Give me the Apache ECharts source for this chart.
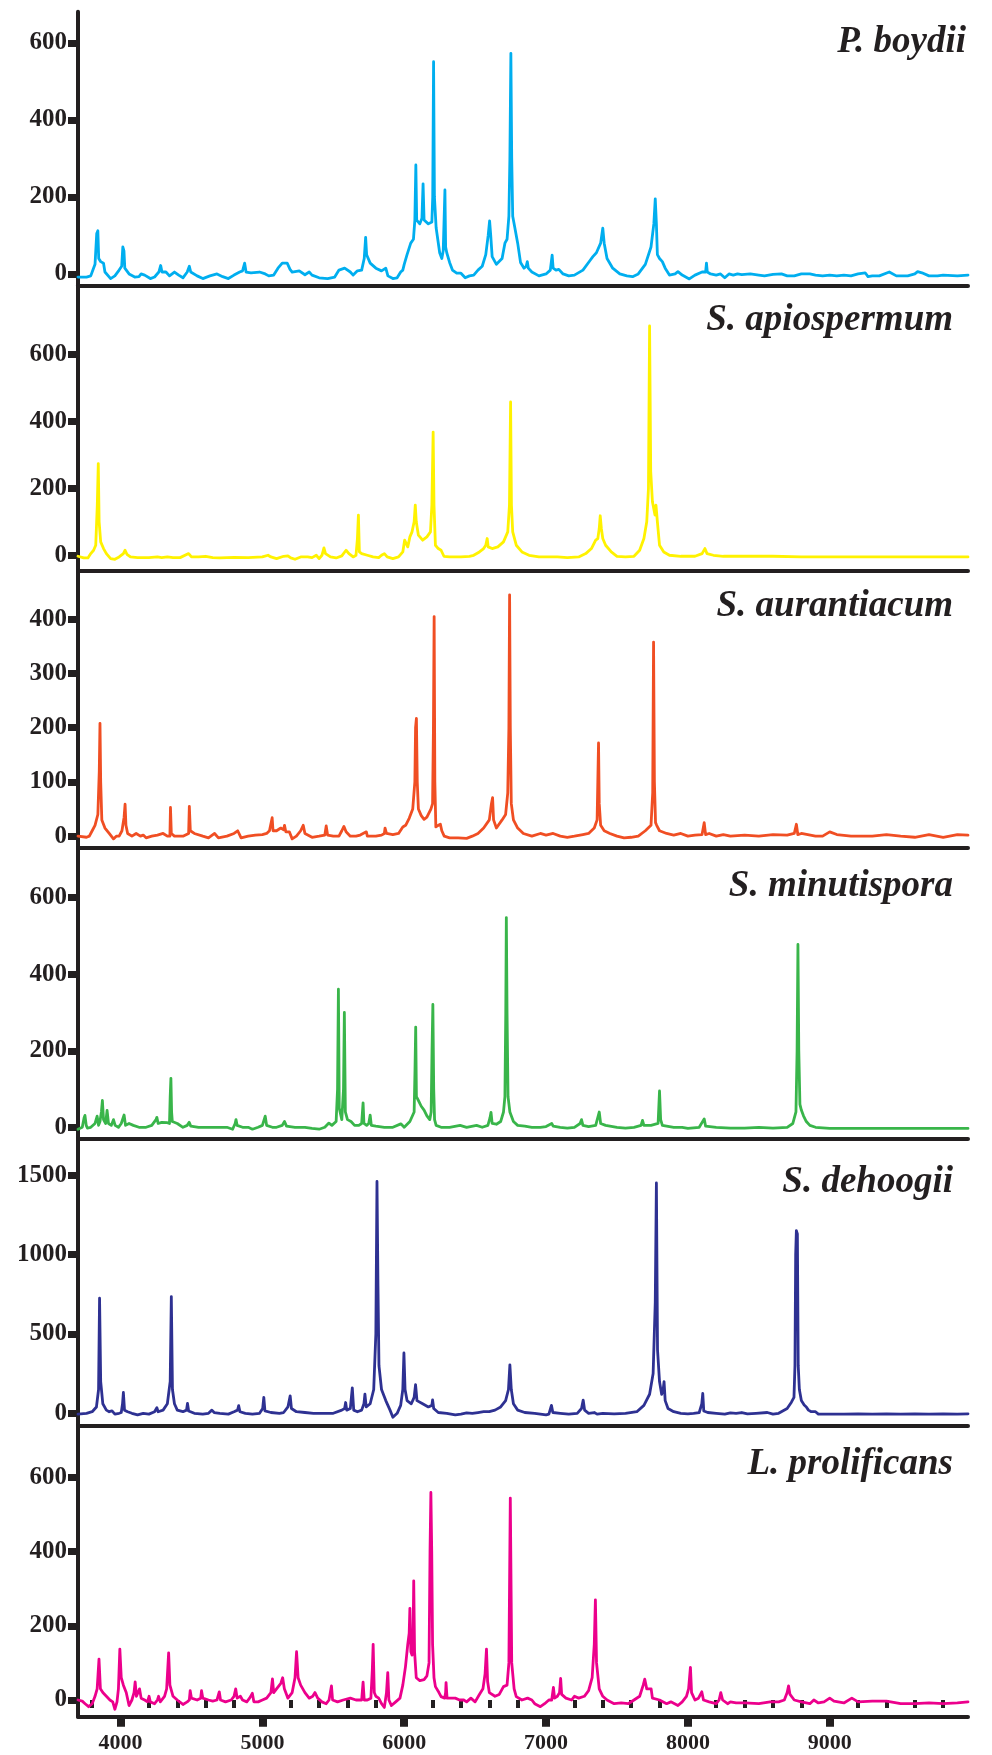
<!DOCTYPE html>
<html>
<head>
<meta charset="utf-8">
<script src="https://cdn.jsdelivr.net/npm/echarts@6/dist/echarts.min.js"></script>
<style>
html,body{margin:0;padding:0;background:#fff;}
#chart{width:992px;height:1755px;}
</style>
</head>
<body>
<div id="chart"></div>
<script>
// ---------- DATA ----------
const speciesNames = ['P. boydii', 'S. apiospermum', 'S. aurantiacum', 'S. minutispora', 'S. dehoogii', 'L. prolificans'];
const xMajorTicks = [4000, 5000, 6000, 7000, 8000, 9000];
const xMinorTicks = [3800, 4200, 4400, 4600, 4800, 5200, 5400, 5600, 5800, 6200, 6400, 6600, 6800, 7200, 7400, 7600, 7800, 8200, 8400, 8600, 8800, 9200, 9400, 9600, 9800];
const yTicks1 = [0, 200, 400, 600];
const yTicks2 = [0, 200, 400, 600];
const yTicks3 = [0, 100, 200, 300, 400];
const yTicks4 = [0, 200, 400, 600];
const yTicks5 = [0, 500, 1000, 1500];
const yTicks6 = [0, 200, 400, 600];

// [m/z, intensity]
const boydii = [[3700,-8],[3760,-8],[3790,-5],[3805,10],[3820,25],[3832,105],[3840,112],[3846,40],[3860,32],[3880,28],[3890,5],[3930,-12],[3960,-5],[3990,10],[4008,20],[4016,70],[4024,60],[4030,15],[4060,0],[4100,-8],[4130,-7],[4145,0],[4170,-3],[4210,-12],[4240,-8],[4270,5],[4283,22],[4292,5],[4320,5],[4345,-5],[4380,5],[4410,-3],[4440,-10],[4470,5],[4485,20],[4495,5],[4540,-5],[4580,-12],[4630,-5],[4680,0],[4720,-7],[4760,-12],[4800,-3],[4840,5],[4860,8],[4875,28],[4885,5],[4920,3],[4980,5],[5020,0],[5045,-5],[5080,-3],[5110,15],[5140,28],[5175,28],[5195,12],[5210,5],[5260,8],[5300,-2],[5330,5],[5350,-3],[5400,-10],[5460,-12],[5510,-8],[5540,10],[5580,15],[5620,5],[5640,-3],[5670,8],[5700,10],[5718,40],[5728,95],[5735,50],[5760,28],[5800,15],[5840,8],[5870,15],[5885,-5],[5920,-12],[5950,-10],[5975,5],[5990,10],[6000,25],[6020,50],[6046,80],[6065,90],[6075,140],[6082,283],[6088,140],[6110,130],[6125,145],[6133,234],[6140,140],[6170,130],[6195,135],[6201,200],[6207,551],[6213,200],[6225,120],[6250,55],[6265,40],[6275,60],[6287,218],[6292,70],[6300,55],[6320,30],[6340,10],[6370,2],[6400,2],[6430,-10],[6460,-5],[6490,-3],[6520,10],[6550,20],[6575,50],[6592,100],[6602,138],[6610,100],[6620,45],[6650,25],[6690,40],[6710,80],[6725,90],[6738,150],[6745,300],[6752,573],[6758,300],[6765,150],[6780,120],[6800,80],[6820,30],[6845,15],[6860,20],[6868,32],[6875,15],[6900,5],[6950,-5],[7000,0],[7030,10],[7043,49],[7050,15],[7070,10],[7090,12],[7120,0],[7160,-5],[7200,-3],[7260,10],[7310,35],[7330,45],[7340,49],[7355,55],[7385,80],[7400,119],[7410,80],[7430,40],[7470,15],[7520,0],[7570,-5],[7610,-7],[7650,0],[7700,25],[7740,70],[7760,130],[7770,195],[7778,130],[7785,50],[7800,40],[7820,32],[7840,15],[7870,-3],[7910,0],[7930,6],[7960,-3],[8010,-13],[8050,-3],[8100,5],[8125,5],[8131,28],[8137,5],[8160,0],[8200,-3],[8230,0],[8260,-10],[8290,0],[8320,-3],[8350,0],[8380,-2],[8440,0],[8500,-3],[8540,-5],[8600,-1],[8660,0],[8700,-5],[8750,-5],[8800,0],[8860,0],[8900,-3],[8950,-5],[9000,-3],[9050,-5],[9100,-3],[9150,-5],[9200,0],[9250,3],[9270,-7],[9300,-5],[9350,-5],[9420,5],[9470,-5],[9550,-5],[9600,0],[9620,6],[9650,3],[9700,-5],[9760,-5],[9800,-3],[9900,-5],[9975,-3]];

const apiospermum = [[3700,-3],[3740,-8],[3770,-8],[3790,5],[3810,15],[3825,30],[3836,150],[3843,274],[3849,100],[3860,40],[3880,20],[3900,5],[3930,-10],[3960,-12],[3990,-5],[4020,5],[4032,15],[4045,3],[4070,-5],[4120,-7],[4200,-7],[4260,-5],[4290,-7],[4330,-5],[4370,-7],[4420,-7],[4480,5],[4487,10],[4500,-5],[4550,-5],[4600,-3],[4650,-7],[4700,-8],[4800,-6],[4900,-7],[5000,-5],[5040,0],[5060,-5],[5100,-10],[5150,-3],[5180,-2],[5200,-8],[5230,-12],[5270,-5],[5320,-5],[5350,-7],[5380,0],[5400,-10],[5420,0],[5434,22],[5445,5],[5480,-5],[5520,-8],[5560,-2],[5590,15],[5600,20],[5610,5],[5640,-5],[5660,0],[5670,50],[5677,120],[5684,10],[5700,5],[5740,0],[5780,-5],[5820,-7],[5840,0],[5860,5],[5880,-5],[5920,-10],[5960,-5],[5990,10],[6003,45],[6012,40],[6025,25],[6040,55],[6055,70],[6070,100],[6078,150],[6085,100],[6100,60],[6130,45],[6160,55],[6185,70],[6195,150],[6204,368],[6210,150],[6220,30],[6240,20],[6260,15],[6280,-3],[6320,-5],[6400,-5],[6460,-3],[6490,0],[6530,10],[6560,20],[6575,30],[6585,50],[6592,25],[6620,20],[6660,25],[6700,40],[6730,70],[6742,150],[6750,458],[6756,150],[6765,70],[6790,30],[6830,10],[6880,0],[6950,-5],[7000,-5],[7080,-5],[7150,-7],[7230,-5],[7280,5],[7320,20],[7350,45],[7365,50],[7375,80],[7382,118],[7390,80],[7400,50],[7420,30],[7460,10],[7500,-3],[7560,-5],[7620,-3],[7660,15],[7690,50],[7710,100],[7722,200],[7730,685],[7738,250],[7750,160],[7760,155],[7768,120],[7775,150],[7785,100],[7800,30],[7830,10],[7870,0],[7950,-3],[8050,-3],[8100,5],[8120,20],[8135,5],[8180,0],[8250,-3],[8400,-3],[8600,-3],[8800,-5],[9000,-5],[9200,-5],[9400,-5],[9600,-5],[9800,-5],[9975,-5]];

const aurantiacum = [[3700,0],[3760,-2],[3780,0],[3800,10],[3820,20],[3840,40],[3850,120],[3855,208],[3860,100],[3868,30],[3890,15],[3920,5],[3950,-5],[3970,0],[3990,0],[4010,10],[4025,35],[4032,59],[4038,20],[4050,5],[4080,0],[4110,5],[4140,0],[4160,2],[4180,-3],[4220,0],[4260,2],[4300,5],[4330,0],[4348,0],[4352,53],[4358,5],[4380,0],[4440,0],[4480,5],[4485,55],[4492,10],[4520,5],[4580,0],[4620,-3],[4663,5],[4690,-3],[4750,0],[4800,5],[4826,10],[4850,-3],[4900,0],[4950,2],[5000,3],[5030,5],[5050,10],[5060,12],[5069,34],[5075,10],[5100,10],[5130,15],[5150,12],[5156,20],[5165,8],[5190,8],[5210,-5],[5240,0],[5270,10],[5288,20],[5300,5],[5350,-2],[5400,0],[5440,2],[5450,19],[5460,2],[5500,0],[5540,0],[5560,10],[5575,18],[5590,8],[5620,0],[5660,0],[5690,2],[5700,5],[5733,8],[5740,0],[5800,0],[5840,2],[5860,5],[5865,15],[5875,5],[5920,3],[5960,5],[5990,17],[6010,20],[6035,33],[6060,50],[6075,100],[6080,200],[6086,217],[6092,100],[6100,50],[6120,38],[6140,31],[6160,35],[6188,50],[6200,60],[6206,200],[6211,405],[6216,100],[6223,17],[6240,20],[6255,22],[6265,10],[6282,0],[6320,-3],[6380,-3],[6440,-4],[6480,0],[6520,5],[6560,15],[6600,30],[6615,60],[6623,71],[6630,30],[6650,15],[6690,30],[6715,40],[6730,80],[6738,200],[6743,445],[6748,200],[6755,60],[6770,30],[6800,15],[6840,5],[6900,0],[6960,5],[7000,2],[7050,5],[7100,0],[7150,-2],[7200,0],[7260,3],[7300,5],[7340,15],[7360,30],[7365,100],[7370,172],[7375,60],[7385,20],[7410,10],[7450,5],[7500,0],[7550,-3],[7600,-2],[7650,0],[7700,10],[7740,20],[7752,80],[7758,358],[7764,100],[7772,25],[7780,20],[7800,10],[7850,5],[7900,2],[7950,5],[8000,0],[8050,2],[8100,3],[8115,25],[8125,3],[8150,5],[8200,0],[8250,3],[8300,0],[8400,2],[8500,0],[8600,3],[8700,2],[8750,5],[8765,22],[8775,3],[8800,5],[8900,0],[8950,0],[9000,8],[9050,3],[9150,0],[9300,0],[9400,3],[9500,0],[9600,-2],[9700,3],[9800,-2],[9900,3],[9975,2]];

const minutispora = [[3700,-5],[3730,0],[3743,25],[3749,31],[3758,5],[3766,-2],[3790,0],[3820,10],[3835,29],[3845,5],[3855,15],[3865,40],[3872,70],[3880,20],[3895,10],[3905,44],[3915,10],[3935,5],[3950,20],[3962,5],[3985,0],[4005,10],[4025,32],[4035,5],[4060,10],[4074,15],[4090,5],[4130,0],[4180,0],[4220,5],[4250,20],[4256,26],[4265,10],[4290,13],[4300,10],[4330,12],[4345,10],[4350,80],[4355,128],[4360,40],[4365,15],[4400,10],[4440,0],[4470,5],[4484,13],[4495,3],[4550,0],[4650,0],[4750,0],[4790,-5],[4808,10],[4814,20],[4822,5],[4860,0],[4900,0],[4930,-5],[4970,0],[5000,5],[5020,29],[5030,5],[5070,0],[5100,0],[5140,5],[5156,15],[5170,3],[5230,0],[5300,0],[5350,-3],[5400,-5],[5440,0],[5469,11],[5490,5],[5520,15],[5530,100],[5536,361],[5542,50],[5560,20],[5572,100],[5578,300],[5585,40],[5600,20],[5625,15],[5650,5],[5680,5],[5700,10],[5710,64],[5716,10],[5735,5],[5750,10],[5760,32],[5768,5],[5800,3],[5860,0],[5920,0],[5976,9],[6000,0],[6040,15],[6070,40],[6076,150],[6081,262],[6086,80],[6100,70],[6120,55],[6140,45],[6160,30],[6180,20],[6190,40],[6196,200],[6202,321],[6208,100],[6214,20],[6225,5],[6260,0],[6320,0],[6394,5],[6440,0],[6510,5],[6550,0],[6590,5],[6605,25],[6612,39],[6620,10],[6650,8],[6680,15],[6700,40],[6710,80],[6716,300],[6720,548],[6725,300],[6732,80],[6745,40],[6770,15],[6800,5],[6850,3],[6900,0],[6960,0],[7000,2],[7040,10],[7050,3],[7100,0],[7150,-2],[7200,0],[7240,10],[7250,20],[7260,5],[7300,2],[7350,5],[7375,40],[7385,10],[7420,5],[7500,0],[7560,-2],[7620,0],[7670,5],[7680,18],[7690,5],[7740,5],[7790,10],[7800,95],[7808,20],[7820,5],[7900,0],[7960,0],[8000,-3],[8080,0],[8115,22],[8125,3],[8200,0],[8300,-2],[8400,-2],[8500,0],[8600,-2],[8700,0],[8740,10],[8762,40],[8770,200],[8776,478],[8782,200],[8790,60],[8800,45],[8815,30],[8835,15],[8860,5],[8900,0],[9000,-3],[9100,-3],[9300,-3],[9500,-3],[9700,-3],[9900,-3],[9975,-3]];

const dehoogii = [[3700,-5],[3760,0],[3800,10],[3830,40],[3845,150],[3852,725],[3860,200],[3875,60],[3900,20],[3920,10],[3940,15],[3960,-5],[3990,0],[4005,5],[4014,60],[4020,131],[4028,20],[4050,10],[4080,0],[4120,-10],[4160,0],[4200,-5],[4240,10],[4256,35],[4265,10],[4300,20],[4330,60],[4350,200],[4358,735],[4366,150],[4380,60],[4400,20],[4440,10],[4465,20],[4472,62],[4480,15],[4520,0],[4580,-5],[4620,0],[4644,20],[4660,5],[4700,0],[4760,-5],[4800,10],[4825,20],[4833,48],[4842,10],[4880,0],[4930,-5],[4980,0],[5002,30],[5010,100],[5018,15],[5060,5],[5120,0],[5150,5],[5180,40],[5196,110],[5205,30],[5240,10],[5300,5],[5360,0],[5440,0],[5500,0],[5560,20],[5580,30],[5587,68],[5595,20],[5620,30],[5634,160],[5644,20],[5670,10],[5700,20],[5716,60],[5723,120],[5732,40],[5760,60],[5785,150],[5800,500],[5808,1460],[5815,800],[5822,300],[5840,150],[5870,80],[5900,20],[5920,-25],[5950,0],[5975,50],[5990,150],[5998,380],[6006,150],[6020,80],[6050,60],[6070,100],[6080,180],[6090,80],[6130,60],[6170,40],[6195,50],[6200,85],[6208,30],[6240,5],[6300,0],[6360,-10],[6400,-5],[6440,3],[6480,0],[6520,5],[6560,10],[6600,10],[6640,20],[6680,40],[6715,80],[6735,150],[6745,305],[6755,150],[6770,60],[6800,20],[6850,5],[6920,0],[7000,-10],[7020,-5],[7038,50],[7048,5],[7100,0],[7160,-5],[7220,0],[7250,30],[7262,83],[7272,20],[7300,0],[7340,5],[7360,-5],[7400,0],[7480,-3],[7560,0],[7640,10],[7690,50],[7730,120],[7755,250],[7770,700],[7778,1450],[7786,400],[7800,200],[7815,120],[7826,150],[7832,200],[7840,80],[7860,30],[7900,10],[7950,0],[8000,-3],[8040,0],[8080,5],[8098,60],[8105,125],[8112,15],[8140,5],[8200,0],[8260,-5],[8300,3],[8340,0],[8380,5],[8420,-3],[8480,0],[8560,5],[8600,-5],[8640,0],[8700,30],[8730,70],[8748,100],[8755,300],[8760,1000],[8765,1150],[8772,1130],[8778,300],[8786,150],[8800,80],[8820,52],[8835,40],[8850,20],[8870,10],[8900,10],[8920,-5],[9000,-5],[9100,-5],[9200,-3],[9300,-5],[9400,-3],[9500,-5],[9600,-3],[9700,-5],[9800,-3],[9900,-5],[9975,-3]];

const prolificans = [[3700,0],[3730,-3],[3750,-10],[3775,-18],[3800,-10],[3820,10],[3835,30],[3848,110],[3858,30],[3875,20],[3900,10],[3925,0],[3945,-5],[3960,-25],[3975,-5],[3985,30],[3995,137],[4005,60],[4020,40],[4040,20],[4060,-15],[4080,0],[4095,20],[4103,49],[4112,10],[4125,10],[4134,30],[4145,5],[4170,0],[4190,-5],[4201,10],[4210,-5],[4240,-10],[4260,0],[4268,10],[4280,-5],[4310,10],[4325,30],[4339,127],[4348,40],[4370,10],[4400,0],[4440,-12],[4470,-5],[4485,0],[4491,25],[4500,5],[4540,0],[4565,5],[4571,25],[4580,5],[4620,0],[4650,-3],[4680,0],[4696,22],[4705,0],[4740,-5],[4780,0],[4800,10],[4812,30],[4822,5],[4845,10],[4860,0],[4890,-5],[4910,5],[4929,18],[4940,-5],[4970,-5],[5000,0],[5030,5],[5060,20],[5071,57],[5080,20],[5100,30],[5130,45],[5143,60],[5155,30],[5180,5],[5210,20],[5230,60],[5241,130],[5252,60],[5270,40],[5300,20],[5330,5],[5355,10],[5371,20],[5390,5],[5420,-5],[5450,-10],[5470,0],[5487,38],[5495,0],[5530,-5],[5570,0],[5620,5],[5660,0],[5700,0],[5710,48],[5718,0],[5740,0],[5765,5],[5775,80],[5781,150],[5789,20],[5800,10],[5820,5],[5840,-10],[5860,-20],[5875,20],[5884,74],[5892,0],[5910,-15],[5940,-5],[5970,5],[5990,40],[6009,90],[6025,150],[6035,180],[6040,247],[6047,130],[6055,121],[6062,150],[6067,321],[6073,130],[6085,60],[6110,52],[6140,55],[6160,65],[6175,100],[6182,400],[6188,559],[6194,400],[6200,150],[6210,60],[6220,36],[6245,20],[6260,9],[6285,5],[6292,20],[6295,47],[6302,5],[6330,5],[6360,5],[6390,0],[6420,0],[6440,-5],[6470,5],[6500,-5],[6530,15],[6555,30],[6570,70],[6580,137],[6588,50],[6600,20],[6640,10],[6670,15],[6700,36],[6725,40],[6738,100],[6748,544],[6758,100],[6775,30],[6790,9],[6830,0],[6870,5],[6900,0],[6920,-10],[6960,-18],[6990,-10],[7020,0],[7040,0],[7052,34],[7060,5],[7080,10],[7095,20],[7103,58],[7110,15],[7140,5],[7180,0],[7200,10],[7230,5],[7270,10],[7300,25],[7325,60],[7340,150],[7348,270],[7356,100],[7375,30],[7400,10],[7430,0],[7480,-10],[7530,-8],[7580,-10],[7620,0],[7660,10],[7685,40],[7696,56],[7710,30],[7741,30],[7750,5],[7800,0],[7850,-10],[7880,-5],[7930,-15],[7960,-5],[7990,10],[8005,30],[8018,88],[8026,20],[8050,0],[8075,5],[8098,22],[8110,0],[8150,-5],[8200,-10],[8220,0],[8232,20],[8245,0],[8280,-10],[8300,-5],[8340,-8],[8400,-8],[8500,-10],[8580,-5],[8640,-5],[8680,0],[8700,20],[8710,38],[8720,15],[8750,0],[8800,-5],[8860,-10],[8888,0],[8920,-8],[8960,-5],[9000,5],[9030,-3],[9100,-8],[9156,5],[9200,-5],[9300,-3],[9400,-3],[9500,-10],[9600,-10],[9700,-8],[9800,-10],[9900,-8],[9975,-5]];

// ---------- LAYOUT / STYLE ----------
const seriesData = [boydii, apiospermum, aurantiacum, minutispora, dehoogii, prolificans];
const yTickSets = [yTicks1, yTicks2, yTicks3, yTicks4, yTicks5, yTicks6];
const colors = ['#00aeef', '#fff200', '#f04e23', '#39b54a', '#2e3192', '#ec008c'];
const panels = [
  {top: 11.7,   bottom: 285.5,  min: -30,   max: 681},
  {top: 285.5,  bottom: 571,    min: -47,   max: 806},
  {top: 571,    bottom: 848,    min: -21.8, max: 489},
  {top: 848,    bottom: 1139,   min: -30.6, max: 730},
  {top: 1139,   bottom: 1425.7, min: -78,   max: 1727},
  {top: 1425.7, bottom: 1716.7, min: -45,   max: 739}
];
const labelPos = [[966, 42], [953, 320], [953, 606], [953, 886], [953, 1182], [953, 1464]];
const XMIN = 3700, XMAX = 9975;
const ink = '#231f20';
const serif = '"Liberation Serif", "Times New Roman", serif';

const grid = [], xAxis = [], yAxis = [], series = [], graphic = [];
panels.forEach((p, i) => {
  const last = i === panels.length - 1;
  grid.push({left: 78, right: 24, top: p.top, height: p.bottom - p.top, containLabel: false, outerBoundsMode: 'none'});
  xAxis.push({
    type: 'value', gridIndex: i, min: XMIN, max: XMAX, position: 'bottom',
    axisLine: {show: true, onZero: false, lineStyle: {color: ink, width: 4}},
    splitLine: {show: false},
    axisTick: last ? {show: true, customValues: xMajorTicks, length: 10, lineStyle: {color: ink, width: 8}} : {show: false},
    axisLabel: last ? {show: true, customValues: xMajorTicks, margin: 16, color: ink, fontSize: 22, fontWeight: 'bold', fontFamily: serif, formatter: v => String(v)} : {show: false}
  });
  yAxis.push({
    type: 'value', gridIndex: i, min: p.min, max: p.max,
    axisLine: {show: true, onZero: false, lineStyle: {color: ink, width: 4}},
    splitLine: {show: false},
    axisTick: {show: true, customValues: yTickSets[i], length: 10, lineStyle: {color: ink, width: 7}},
    axisLabel: {show: true, customValues: yTickSets[i], margin: 11, color: ink, fontSize: 25, fontWeight: 'bold', fontFamily: serif, formatter: v => String(v)}
  });
  series.push({
    type: 'line', xAxisIndex: i, yAxisIndex: i, data: seriesData[i],
    showSymbol: false, symbol: 'none', smooth: false,
    lineStyle: {color: colors[i], width: 2.8, join: 'round', cap: 'round'},
    animation: false, z: 2
  });
  graphic.push({
    type: 'text', x: labelPos[i][0], y: labelPos[i][1], z: 10,
    style: {text: speciesNames[i], align: 'right', verticalAlign: 'middle', fill: ink,
            font: 'italic bold 37px ' + serif}
  });
});
// minor ticks on the bottom axis
xAxis.push({
  type: 'value', gridIndex: 5, min: XMIN, max: XMAX, position: 'bottom',
  axisLine: {show: false}, splitLine: {show: false}, axisLabel: {show: false},
  axisTick: {show: true, customValues: xMinorTicks, length: 8, lineStyle: {color: ink, width: 4}}
});

const chart = echarts.init(document.getElementById('chart'), null, {renderer: 'canvas'});
chart.setOption({animation: false, backgroundColor: '#fff', grid, xAxis, yAxis, series, graphic});
</script>
</body>
</html>
